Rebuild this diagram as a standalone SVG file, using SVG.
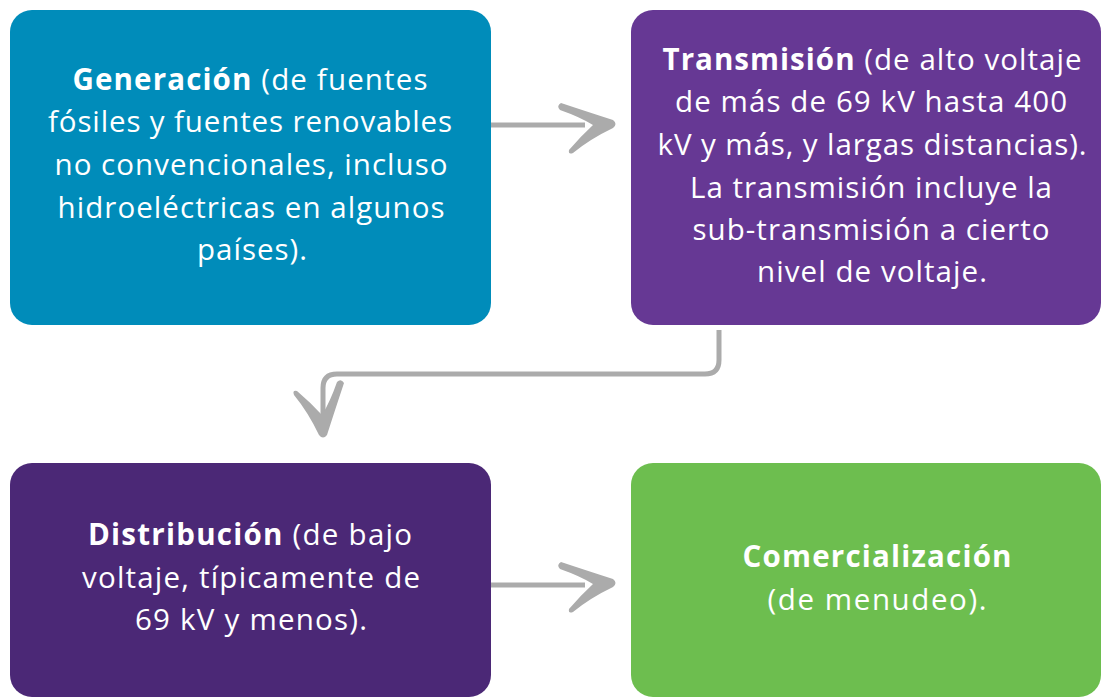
<svg xmlns="http://www.w3.org/2000/svg" xmlns:xlink="http://www.w3.org/1999/xlink" width="1103" height="698" viewBox="0 0 1103 698">
<style>
.t{font-family:"Open Sans","Liberation Sans",sans-serif;font-size:29.5px;fill:#ffffff;text-anchor:middle}
.b{font-weight:bold}
.ln{fill:none;stroke:#ababab;stroke-width:5}
.ch{fill:#ababab}
</style>
<defs>
<path id="chev" d="M-54,-21 Q-30,-13 -2,-4 Q3,0 -2,4 Q-25,15 -42,29 Q-47,31 -46,26 Q-35,13 -22,1 Q-35,-7 -55,-14 Q-59,-18 -54,-21 Z"/>
</defs>
<rect width="1103" height="698" fill="#ffffff"/>
<g id="connectors">
<path class="ln" d="M491,125 H585"/>
<use href="#chev" class="ch" transform="translate(615,124)"/>
<path class="ln" d="M719,330 V360 Q719,374 705,374 H337 Q323,374 323,388 V415"/>
<use href="#chev" class="ch" transform="translate(323,437) rotate(90)"/>
<path class="ln" d="M491,585 H585"/>
<use href="#chev" class="ch" transform="translate(615,583)"/>
</g>
<g id="generacion">
<rect x="10" y="10" width="481" height="315" rx="22" fill="#008cba"/>
<text class="t" x="250" y="90" textLength="355" lengthAdjust="spacing"><tspan class="b">Generación</tspan> (de fuentes</text>
<text class="t" x="250" y="132" textLength="404" lengthAdjust="spacing">fósiles y fuentes renovables</text>
<text class="t" x="251" y="175" textLength="393" lengthAdjust="spacing">no convencionales, incluso</text>
<text class="t" x="251" y="218" textLength="387" lengthAdjust="spacing">hidroeléctricas en algunos</text>
<text class="t" x="252" y="260" textLength="110" lengthAdjust="spacing">países).</text>
</g>
<g id="transmision">
<rect x="631" y="10" width="470" height="315" rx="22" fill="#663894"/>
<text class="t" x="872" y="70" textLength="419" lengthAdjust="spacing"><tspan class="b">Transmisión</tspan> (de alto voltaje</text>
<text class="t" x="871" y="112" textLength="392" lengthAdjust="spacing">de más de 69 kV hasta 400</text>
<text class="t" x="872" y="155" textLength="429" lengthAdjust="spacing">kV y más, y largas distancias).</text>
<text class="t" x="871" y="198" textLength="362" lengthAdjust="spacing">La transmisión incluye la</text>
<text class="t" x="871" y="240" textLength="357" lengthAdjust="spacing">sub-transmisión a cierto</text>
<text class="t" x="872" y="282" textLength="230" lengthAdjust="spacing">nivel de voltaje.</text>
</g>
<g id="distribucion">
<rect x="10" y="463" width="481" height="234" rx="22" fill="#4b2876"/>
<text class="t" x="250" y="545" textLength="324" lengthAdjust="spacing"><tspan class="b">Distribución</tspan> (de bajo</text>
<text class="t" x="251" y="588" textLength="338" lengthAdjust="spacing">voltaje, típicamente de</text>
<text class="t" x="251" y="630" textLength="232" lengthAdjust="spacing">69 kV y menos).</text>
</g>
<g id="comercializacion">
<rect x="631" y="463" width="470" height="234" rx="22" fill="#6dbe4f"/>
<text class="t b" x="877" y="567" textLength="269" lengthAdjust="spacing">Comercialización</text>
<text class="t" x="877" y="610" textLength="219" lengthAdjust="spacing">(de menudeo).</text>
</g>
</svg>
